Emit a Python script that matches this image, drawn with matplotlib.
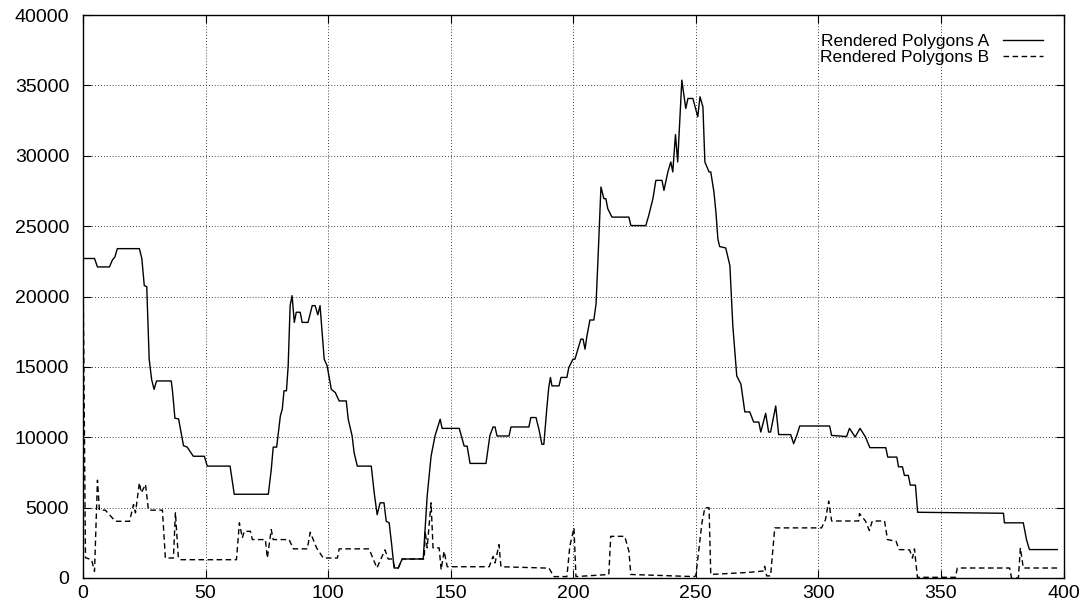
import matplotlib
matplotlib.use("Agg")
import matplotlib.pyplot as plt

# breakpoints
a_x = [0, 4.7, 5.9, 10.8, 12, 13, 14, 23, 24, 25, 26, 27, 28, 29, 30, 36, 36.5, 37.5, 39, 41,
       42.5, 45, 49.5, 50.7, 60, 61.7, 75.6, 76.8, 77.6, 79, 80.5, 81.3, 82, 83, 83.7, 84.5,
       85.3, 86.2, 87, 88.6, 89.4, 91.8, 93.5, 94.7, 95.8, 96.7, 98.4, 99.6, 101.3, 102.9,
       104.5, 107.4, 108.2, 109.8, 110.6, 111.9, 117.6, 118.8, 120, 121.2, 122.8, 123.7,
       124.9, 126, 126.9, 128.6, 130.2, 138.8, 140.4, 142, 143.6, 145.7, 146.5, 153.5, 155.5,
       156.7, 157.9, 164.4, 166, 167.3, 168.1, 168.9, 173.8, 174.6, 181.9, 182.7, 184.8, 186,
       187.2, 188, 189.3, 190, 190.7, 191.3, 194.2, 195, 197.4, 198.2, 199.9, 200.7, 201.9,
       203.1, 204, 204.8, 205.6, 206.8, 208.4, 209.3, 210.1, 211.3, 212.5, 213.3, 214.1,
       215.8, 222.7, 223.5, 229.6, 230.8, 232.5, 233.7, 236.2, 237, 238.6, 239.8, 240.6,
       241.7, 242.6, 244.3, 245.9, 246.8, 248.8, 250.8, 251.7, 252.9, 253.7, 255.4, 256.1,
       257.4, 258.2, 259, 259.7, 262.2, 263.9, 265.1, 266.7, 268.4, 270, 272, 273.6, 275.7,
       276.5, 278.5, 279.7, 280.5, 282.6, 283.8, 288.7, 289.9, 291.2, 292.4, 304.6, 305.4,
       311.5, 312.7, 315, 317, 319.2, 321, 327.5, 328.3, 332, 332.7, 334.3, 335.1, 336.7,
       337.5, 339.6, 340.5, 375.5, 375.9, 383.6, 384.9, 386.1, 397.5]
a_y = [22700, 22700, 22100, 22100, 22600, 22800, 23400, 23400, 22700, 20770, 20700, 15550,
       14100, 13400, 14000, 14000, 13300, 11350, 11300, 9400, 9300, 8650, 8650, 7950, 7950,
       5950, 5950, 7700, 9300, 9300, 11500, 12000, 13300, 13300, 15070, 19350, 20060, 18160,
       18880, 18880, 18160, 18160, 19350, 19350, 18700, 19350, 15550, 15070, 13400, 13180,
       12580, 12580, 11280, 10090, 8900, 7950, 7950, 6050, 4500, 5340, 5340, 4030, 3920, 2250,
       710, 710, 1350, 1350, 5810, 8660, 10090, 11280, 10630, 10630, 9370, 9370, 8140, 8140,
       10130, 10730, 10730, 10090, 10090, 10730, 10730, 11400, 11400, 10560, 9500, 9500,
       12220, 13530, 14250, 13650, 13650, 14250, 14250, 14960, 15550, 15550, 16260, 16970,
       16970, 16260, 17210, 18330, 18330, 19470, 22670, 27780, 26950, 26950, 26230, 25640,
       25640, 25040, 25040, 25760, 26950, 28250, 28250, 27540, 28850, 29560, 28850, 31500,
       29560, 35370, 33360, 34070, 34070, 32770, 34190, 33480, 29560, 28850, 28850, 27420,
       26000, 24100, 23550, 23450, 22200, 17920, 14360, 13770, 11800, 11800, 11080, 11080,
       10370, 11700, 10370, 10370, 12220, 10190, 10190, 9540, 10130, 10800, 10800, 10130,
       10050, 10630, 10020, 10630, 10020, 9260, 9260, 8590, 8590, 7900, 7900, 7290, 7290,
       6600, 6600, 4670, 4600, 3920, 3920, 2730, 2020, 2020]

b_x = [0, 1, 3.5, 4.7, 5.9, 6.7, 9.1, 13.2, 19, 20.6, 21.4, 23, 23.8, 25.5, 26.7, 32.4, 33.6,
       36.9, 37.7, 38.9, 39.7, 62.6, 63.8, 65, 65.8, 68.3, 69.1, 74.4, 75.2, 76.8, 77.6, 84.1,
       85.8, 91.5, 92.7, 95.3, 98, 103.8, 104.5, 116.7, 119.9, 123.2, 124.5, 126.3, 127.2,
       128.6, 130.2, 139.2, 139.6, 140.4, 142, 142.8, 145.3, 146.1, 147.3, 148.6, 165.7,
       167.3, 168.1, 169.7, 170.5, 190.1, 192.1, 197.4, 198.6, 200.3, 201.1, 214.5, 215.3,
       221, 222.7, 223.5, 249.2, 250, 252.5, 253.7, 255.4, 256.1, 271.6, 277.7, 278.1, 278.9,
       280.5, 282.2, 301.3, 302.9, 304.2, 305.4, 316.4, 316.8, 319.2, 320.8, 322, 327, 328.2,
       331.7, 332.9, 337.2, 338.4, 339.2, 340.4, 355.9, 356.7, 378, 378.8, 381.6, 382.4,
       383.6, 397.5]
b_y = [22700, 1440, 1300, 470, 6950, 4820, 4820, 4030, 4030, 5220, 4630, 6770, 6050, 6650,
       4820, 4820, 1420, 1420, 4670, 1420, 1300, 1300, 3920, 2850, 3320, 3320, 2730, 2730,
       1420, 3440, 2730, 2730, 2070, 2070, 3250, 2140, 1420, 1420, 2070, 2070, 710, 2000,
       1350, 1350, 710, 710, 1350, 1350, 3320, 2140, 5340, 2140, 2140, 590, 1900, 800, 800,
       1540, 1070, 2370, 800, 700, 100, 100, 2250, 3560, 100, 250, 2960, 2960, 1900, 250,
       100, 150, 3920, 4990, 4990, 250, 400, 500, 830, 150, 150, 3560, 3560, 4150, 5460,
       4050, 4050, 4580, 4050, 3370, 4050, 4050, 2730, 2610, 2020, 2000, 1420, 2070, 50, 50,
       710, 710, 0, 0, 2140, 710, 710]

plt.rcParams['font.family'] = ['Liberation Sans', 'DejaVu Sans']

fig = plt.figure(figsize=(10.87, 6.06), dpi=100)
ax = fig.add_axes([83 / 1087, 28 / 606, 980.5 / 1087, 563 / 606])

ax.plot(a_x, a_y, color='black', lw=1.0, label='Rendered Polygons A')
ax.plot(b_x, b_y, color='black', lw=1.0, dashes=(4, 2.5), label='Rendered Polygons B')

ax.set_xlim(0, 400)
ax.set_ylim(0, 40000)
ax.set_xticks(range(0, 401, 50))
ax.set_yticks(range(0, 40001, 5000))
ax.grid(True, color='black', linestyle=(0, (1, 2.5)), linewidth=0.6)
ax.tick_params(direction='in', length=6, width=0.8, top=True, right=True,
               labelsize=14, pad=5)
ax.tick_params(axis='y', pad=10)
for s in ax.spines.values():
    s.set_linewidth(1.0)

ax.legend(loc='upper right', frameon=False, markerfirst=False, fontsize=12.5,
          handlelength=2.3, handletextpad=0.8, labelspacing=0.0, borderaxespad=0,
          borderpad=0.4, bbox_to_anchor=(0.986, 0.978))

fig.savefig('out.png', dpi=100)
